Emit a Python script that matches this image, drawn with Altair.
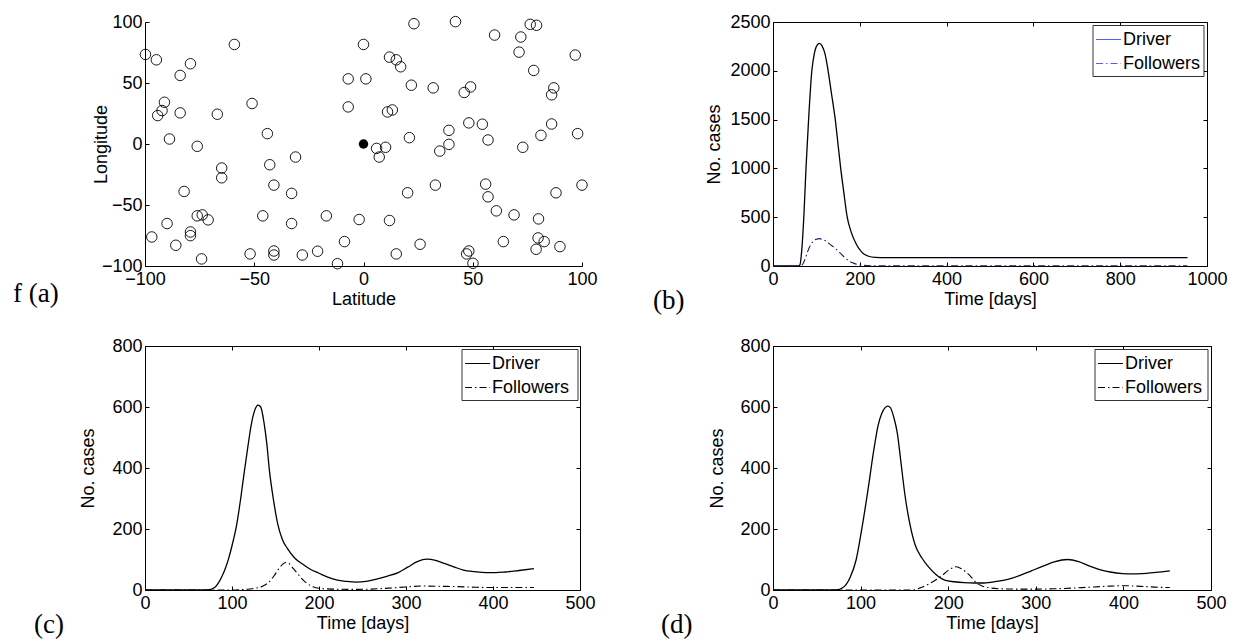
import altair as alt
import pandas as pd

SANS = "Liberation Sans"
SERIF = "Liberation Serif"

# ---------------- panel (a): site positions ----------------
lat = [-99.8, -94.8, -59.1, -79.2, -83.9, -91.1, -92.2, -94.2, -83.9, -66.9,
       -51.0, -88.8, -76.1, -44.0, -42.9, -31.1, -64.9, -64.9, -41.0, -82.1,
       -32.9, -46.1, -17.0, -89.9, -32.9, -76.1, -73.8, -71.1, -96.9, -85.9,
       -79.2, -79.2, -74.1, -51.9, -41.0, -41.0, -28.0, -21.0, -11.9, -8.7,
       -7.0, -7.0,
       23.1, 42.1, 76.3, 79.2, 60.0, 72.0, 0.0, 71.2, 96.9, 11.9,
       15.0, 17.0, 77.9, 1.1, 21.9, 31.9, 46.1, 49.0, 87.1, 86.1,
       11.0, 13.2, 48.2, 54.4, 86.1, 39.1, 21.0, 81.2, 98.0, 57.0,
       39.1, 34.9, 6.0, 10.1, 7.2, 72.9, 32.9, 55.9, 20.2, 57.0,
       88.1, 100.0, 60.8, 68.9, 80.1, -2.0, 11.9, 25.9, 64.0, 79.9,
       82.7, 79.0, 89.9, 15.0, 48.2, 47.2, 50.1]
lon = [73.4, 69.0, 81.6, 65.8, 56.2, 34.2, 27.4, 23.3, 25.5, 24.4,
       33.2, 4.1, -1.9, 8.5, -17.0, -10.7, -19.7, -27.7, -33.7, -38.9,
       -40.5, -58.9, -58.9, -65.2, -65.2, -58.9, -58.1, -62.2, -76.2, -83.0,
       -72.1, -75.1, -94.2, -90.1, -87.7, -91.0, -91.0, -87.9, -98.1, -80.0,
       53.4, 30.4,
       98.6, 100.3, 98.1, 97.3, 89.3, 87.7, 81.6, 75.3, 72.9, 71.2,
       69.0, 63.3, 60.3, 53.4, 48.2, 46.0, 42.2, 46.8, 46.0, 40.3,
       26.3, 27.9, 17.3, 16.2, 16.4, 11.2, 5.2, 7.1, 8.5, 3.3,
       -0.3, -5.8, -3.6, -2.7, -10.7, -2.7, -33.7, -32.9, -40.0, -43.3,
       -40.0, -33.7, -54.8, -58.1, -61.4, -61.9, -62.7, -82.2, -80.0, -77.0,
       -80.0, -86.3, -84.1, -90.1, -87.7, -90.1, -97.8]
driver_lat = [0.0]
driver_lon = [0.0]
a_ticks = [-100, -50, 0, 50, 100]

# ---------------- panel (b) ----------------
b_drv_day = [0, 58, 62, 66, 71, 76, 82, 89.5, 95, 100, 107, 113, 120, 127, 135,
             143.5, 150, 156, 163, 171, 180, 192, 205, 220, 235, 260, 955]
b_drv_val = [0, 0, 10, 150, 500, 1000, 1500, 2000, 2170, 2250, 2280, 2255, 2170,
             2000, 1760, 1500, 1240, 1000, 760, 500, 350, 223, 140, 100, 88, 85, 85]
b_fol_day = [0, 62, 66, 70, 75, 80, 86, 92, 100, 107, 115, 125, 135, 145, 151,
             160, 168, 174, 182, 190, 197, 210, 230, 955]
b_fol_val = [0, 0, 5, 30, 85, 150, 210, 250, 275, 280, 270, 245, 210, 175, 150,
             110, 75, 55, 35, 22, 14, 6, 3, 3]
b_xticks = [0, 200, 400, 600, 800, 1000]
b_yticks = [0, 500, 1000, 1500, 2000, 2500]

# ---------------- panel (c) ----------------
c_drv_day = [0, 72, 80, 84, 88, 92, 96, 100, 105.5, 110, 114, 118, 122, 126, 130, 133,
             137, 140, 143, 148, 152.6, 158, 164, 172, 181, 190, 200, 210, 221, 232,
             243, 254, 265, 278, 291, 302, 313, 324, 334, 344, 355, 366, 379, 392,
             403, 414, 430, 447]
c_drv_val = [0, 0, 8, 22, 42, 68, 102, 145, 216, 300, 385, 465, 540, 588, 606, 600,
             545, 480, 392, 290, 216, 165, 135, 105, 85, 68, 55, 42, 32, 28,
             26, 28, 35, 45, 57, 75, 93, 101, 97, 87, 76, 65, 60, 57,
             57, 59, 64, 70]
c_fol_day = [0, 100, 115, 125, 135, 142, 148, 154, 158, 162, 166, 170, 175, 181,
             187, 193, 200, 215, 240, 260, 280, 300, 320, 340, 360, 380, 400, 420, 447]
c_fol_val = [0, 0, 2, 5, 12, 25, 45, 70, 84, 90, 86, 72, 55, 35,
             20, 11, 6, 3, 2, 3, 6, 10, 13, 12, 11, 9, 8, 8, 8]

# ---------------- panel (d) ----------------
d_drv_day = [0, 72, 80, 88, 95, 101, 108, 115, 120, 124, 128, 131, 134, 138, 142,
             146, 151, 156, 162, 170, 178, 187, 196, 207, 218, 230, 241, 255, 268,
             282, 295, 309, 322, 336, 349, 360, 372, 385, 399, 410, 421, 437, 453]
d_drv_val = [0, 0, 8, 41, 100, 194, 320, 458, 540, 578, 598, 603, 598, 565, 513,
             420, 304, 220, 150, 105, 74, 48, 32, 27, 24, 23, 23, 28, 35,
             48, 63, 79, 93, 100, 93, 80, 68, 59, 54, 53, 54, 58, 63]
d_fol_day = [0, 160, 169, 178, 187, 196, 203, 209, 215, 221, 227, 232, 238, 245,
             260, 280, 300, 320, 340, 360, 380, 400, 420, 440, 453]
d_fol_val = [0, 0, 8, 20, 35, 55, 70, 76, 70, 57, 40, 24, 14, 8,
             4, 3, 3, 4, 6, 9, 12, 14, 12, 9, 8]
cd_xticks = [0, 100, 200, 300, 400, 500]
cd_yticks = [0, 200, 400, 600, 800]

legend_labels = ["Driver", "Followers"]
panel_tags = ["f (a)", "(b)", "(c)", "(d)"]

DASHDOT = [7, 3, 1.5, 3]
H = 244


def ax_main(orient, values, title, tp):
    return alt.Axis(orient=orient, values=values, title=title, domain=False,
                    ticks=True, tickSize=4, offset=-4, format="d",
                    labelPadding=4 if orient == "bottom" else 3,
                    titlePadding=tp, grid=False)


def ax_mirror(orient, values):
    return alt.Axis(orient=orient, values=values, title="", labels=False,
                    domain=False, ticks=True, tickSize=4, offset=-4, grid=False)


def tag_layer(text, x, y):
    return alt.Chart(pd.DataFrame({"tag": [text]})).mark_text(
        font=SERIF, fontSize=27, align="left", baseline="middle", color="black"
    ).encode(x=alt.value(x), y=alt.value(y), text="tag:N")


def legend_layers(W, bx_from_right, bw, col):
    bx = W - bx_from_right
    by = 3.5
    box = alt.Chart(pd.DataFrame({"k": [0]})).mark_rect(
        fill="white", stroke="black", strokeWidth=0.8
    ).encode(x=alt.value(bx), x2=alt.value(bx + bw), y=alt.value(by), y2=alt.value(by + 51))
    out = [box]
    dashes = [None, DASHDOT]
    rows = [by + 14, by + 38]
    for lab, dash, ry in zip(legend_labels, dashes, rows):
        kw = dict(color=col, strokeWidth=1)
        if dash is not None:
            kw["strokeDash"] = dash
        out.append(alt.Chart(pd.DataFrame({"label": [lab]})).mark_rule(**kw).encode(
            x=alt.value(bx + 3), x2=alt.value(bx + 28), y=alt.value(ry)))
        out.append(alt.Chart(pd.DataFrame({"label": [lab]})).mark_text(
            font=SANS, fontSize=18, align="left", baseline="middle", color="black"
        ).encode(x=alt.value(bx + 30), y=alt.value(ry), text="label:N"))
    return out


def line_panel(W, dd, dv, fd, fv, xdom, xt, ydom, yt, fol_col, leg_col, leg_right, leg_w,
               tag, tag_x, tag_y, ytp):
    xs = alt.Scale(domain=xdom, nice=False, zero=False)
    ys = alt.Scale(domain=ydom, nice=False, zero=False)
    drv = alt.Chart(pd.DataFrame({"day": dd, "cases": dv})).mark_line(
        color="black", strokeWidth=1.3, interpolate="monotone"
    ).encode(
        x=alt.X("day:Q", scale=xs, axis=ax_main("bottom", xt, "Time [days]", 2)),
        y=alt.Y("cases:Q", scale=ys, axis=ax_main("left", yt, "No. cases", ytp)),
    )
    fol = alt.Chart(pd.DataFrame({"day": fd, "cases": fv})).mark_line(
        color=fol_col, strokeWidth=1.1, strokeDash=DASHDOT, interpolate="monotone"
    ).encode(
        x=alt.X("day:Q", scale=xs, axis=ax_mirror("top", xt)),
        y=alt.Y("cases:Q", scale=ys, axis=ax_mirror("right", yt)),
    )
    layers = [drv, fol] + legend_layers(W, leg_right, leg_w, leg_col) + [tag_layer(tag, tag_x, tag_y)]
    return alt.layer(*layers).resolve_axis(x="independent", y="independent").properties(
        width=W, height=H, view=alt.ViewBackground(stroke="black", strokeWidth=1)
    )


# ---- panel a ----
WA = 437
sa = alt.Scale(domain=[-100, 100], nice=False, zero=False)
pts = alt.Chart(pd.DataFrame({"lat": lat, "lon": lon})).mark_point(
    shape="circle", filled=False, color="black", size=110, strokeWidth=0.9, opacity=1
).encode(
    x=alt.X("lat:Q", scale=sa, axis=alt.Axis(orient="bottom", values=a_ticks, title="Latitude",
                                              domain=True, ticks=False, labelPadding=4,
                                              titlePadding=2, grid=False, format="d")),
    y=alt.Y("lon:Q", scale=sa, axis=alt.Axis(orient="left", values=a_ticks, title="Longitude",
                                              domain=True, ticks=False, labelPadding=3,
                                              titlePadding=-9, grid=False, format="d")),
)
ctr = alt.Chart(pd.DataFrame({"lat": driver_lat, "lon": driver_lon})).mark_point(
    shape="circle", filled=True, color="black", size=90, opacity=1
).encode(
    x=alt.X("lat:Q", scale=sa, axis=ax_mirror("bottom", a_ticks)),
    y=alt.Y("lon:Q", scale=sa, axis=ax_mirror("left", a_ticks)),
)
anchor = alt.Chart(pd.DataFrame({"k": [0]})).mark_rule(strokeOpacity=0, color="white").encode(
    x=alt.value(-144), x2=alt.value(-140), y=alt.value(-21.5))
pa = alt.layer(pts, ctr, anchor, tag_layer(panel_tags[0], -132, 272)).resolve_axis(
    x="independent", y="independent").properties(width=WA, height=H)

pb = line_panel(434, b_drv_day, b_drv_val, b_fol_day, b_fol_val, [0, 1000], b_xticks,
                [0, 2500], b_yticks, "#1c1c5a", "#5b5bf5", 114, 111,
                panel_tags[1], -120, 279, 6)
pc = line_panel(435, c_drv_day, c_drv_val, c_fol_day, c_fol_val, [0, 500], cd_xticks,
                [0, 800], cd_yticks, "black", "black", 118, 116,
                panel_tags[2], -111, 279, 14)
pd_ = line_panel(438, d_drv_day, d_drv_val, d_fol_day, d_fol_val, [0, 500], cd_xticks,
                 [0, 800], cd_yticks, "black", "black", 116, 113,
                 panel_tags[3], -112, 279, 13)

chart = alt.concat(pa, pb, pc, pd_, columns=2, spacing={"row": 80, "column": 191},
                   bounds="flush").properties(
    padding=0, background="white"
).configure_view(
    stroke="transparent"
).configure_axis(
    labelFont=SANS, labelFontSize=18, labelColor="black",
    titleFont=SANS, titleFontSize=18, titleFontWeight="normal", titleColor="black",
    tickColor="black", domainColor="black", tickWidth=1, domainWidth=1,
    labelFlush=False, labelOverlap=False, labelBound=False
)

chart.save("out.html", embed_options={"renderer": "svg", "actions": False})
